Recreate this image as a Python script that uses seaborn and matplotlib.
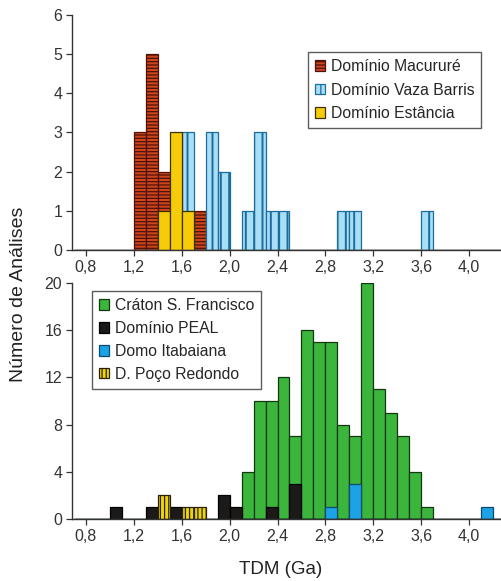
import numpy as np
import pandas as pd
import matplotlib
matplotlib.use("Agg")
import matplotlib.pyplot as plt
from matplotlib.ticker import FuncFormatter
import seaborn as sns

sns.set_style("white")
plt.rcParams["font.family"] = ["Liberation Sans", "DejaVu Sans"]

# Bin edges (Ga), 0.1 Ga wide
edges = [round(v, 2) for v in np.arange(0.7, 4.35, 0.1)]

# ---- upper panel: counts per bin (bin start -> count)
macurure_bins = [1.2, 1.3, 1.4, 1.7]
macurure_counts = [3, 5, 2, 1]

vaza_barris_bins = [1.6, 1.8, 1.9, 2.1, 2.2, 2.3, 2.4, 2.9, 3.0, 3.6]
vaza_barris_counts = [3, 3, 2, 1, 3, 1, 1, 1, 1, 1]

estancia_bins = [1.4, 1.5, 1.6]
estancia_counts = [1, 3, 1]

# ---- lower panel
craton_bins = [2.1, 2.2, 2.3, 2.4, 2.5, 2.6, 2.7, 2.8, 2.9, 3.0,
               3.1, 3.2, 3.3, 3.4, 3.5, 3.6]
craton_counts = [4, 10, 10, 12, 7, 16, 15, 15, 8, 7,
                 20, 11, 9, 7, 4, 1]

peal_bins = [1.0, 1.3, 1.5, 1.9, 2.0, 2.3, 2.5]
peal_counts = [1, 1, 1, 2, 1, 1, 3]

itabaiana_bins = [2.8, 3.0, 4.1]
itabaiana_counts = [1, 3, 1]

poco_redondo_bins = [1.4, 1.6, 1.7]
poco_redondo_counts = [2, 1, 1]

x_ticks = [0.8, 1.2, 1.6, 2.0, 2.4, 2.8, 3.2, 3.6, 4.0]
top_yticks = [0, 1, 2, 3, 4, 5, 6]
bottom_yticks = [0, 4, 8, 12, 16, 20]


def frame(starts, counts):
    return pd.DataFrame({
        "tdm": np.array(starts, dtype=float) + 0.05,
        "n": np.array(counts, dtype=float),
    })


def draw(ax, name, starts, counts, face, edge, hatch=None, lw=0.9,
         hatch_lw=0.8):
    plt.rcParams["hatch.linewidth"] = hatch_lw
    df = frame(starts, counts)
    sns.histplot(data=df, x="tdm", weights="n", bins=edges, ax=ax,
                 color=face, alpha=1.0, edgecolor=edge, linewidth=lw,
                 hatch=hatch, label=name)


fig = plt.figure(figsize=(5.01, 5.81), dpi=100)
ax1 = fig.add_axes([0.1437, 0.5697, 0.8563, 0.4045])
ax2 = fig.add_axes([0.1437, 0.1067, 0.8563, 0.4062])

draw(ax1, "Domínio Macururé", macurure_bins, macurure_counts,
     "#CC451E", "#4E1208", hatch="-----", hatch_lw=0.9)
draw(ax1, "Domínio Vaza Barris", vaza_barris_bins, vaza_barris_counts,
     "#A8DEF6", "#1D6C9E", hatch="||", hatch_lw=1.4)
draw(ax1, "Domínio Estância", estancia_bins, estancia_counts,
     "#F6CC0A", "#3A3000")

draw(ax2, "Cráton S. Francisco", craton_bins, craton_counts,
     "#3BB53B", "#123812")
draw(ax2, "Domínio PEAL", peal_bins, peal_counts,
     "#1C1A18", "#000000")
draw(ax2, "Domo Itabaiana", itabaiana_bins, itabaiana_counts,
     "#1CA3E6", "#0D4A70")
draw(ax2, "D. Poço Redondo", poco_redondo_bins, poco_redondo_counts,
     "#EDD412", "#2A2200", hatch="||||", hatch_lw=0.9)

comma = FuncFormatter(lambda v, p: f"{v:.1f}".replace(".", ","))

for ax, yt in ((ax1, top_yticks), (ax2, bottom_yticks)):
    ax.set_xlim(0.683, 4.267)
    ax.set_ylim(yt[0], yt[-1])
    ax.set_xticks(x_ticks)
    ax.set_yticks(yt)
    ax.xaxis.set_major_formatter(comma)
    ax.set_xlabel("")
    ax.set_ylabel("")
    for s in ("top", "right"):
        ax.spines[s].set_visible(False)
    for s in ("left", "bottom"):
        ax.spines[s].set_color("#333333")
        ax.spines[s].set_linewidth(1.0)
    ax.tick_params(axis="both", which="major", length=4, width=0.9,
                   color="#333333", labelsize=11.5, labelcolor="#333333",
                   direction="out", bottom=True, left=True, pad=3)

legend_style = dict(frameon=True, fancybox=False, edgecolor="#333333",
                    handlelength=0.65, handleheight=0.65, handletextpad=0.35,
                    borderpad=0.45, borderaxespad=0.0, fontsize=11.3)
ax1.legend(loc="upper left", bbox_to_anchor=(0.55, 0.843),
           labelspacing=0.55, **legend_style)
ax2.legend(loc="upper left", bbox_to_anchor=(0.047, 0.966),
           labelspacing=0.5, **legend_style)
for leg in (ax1.get_legend(), ax2.get_legend()):
    leg.get_frame().set_linewidth(1.0)

fig.text(0.037, 0.494, "Número de Análises", rotation=90, ha="center",
         va="center", fontsize=14, color="#222222")
fig.text(0.56, 0.019, "TDM (Ga)", ha="center", va="center",
         fontsize=13.5, color="#222222")

fig.savefig("out.png", dpi=100, facecolor="white")
